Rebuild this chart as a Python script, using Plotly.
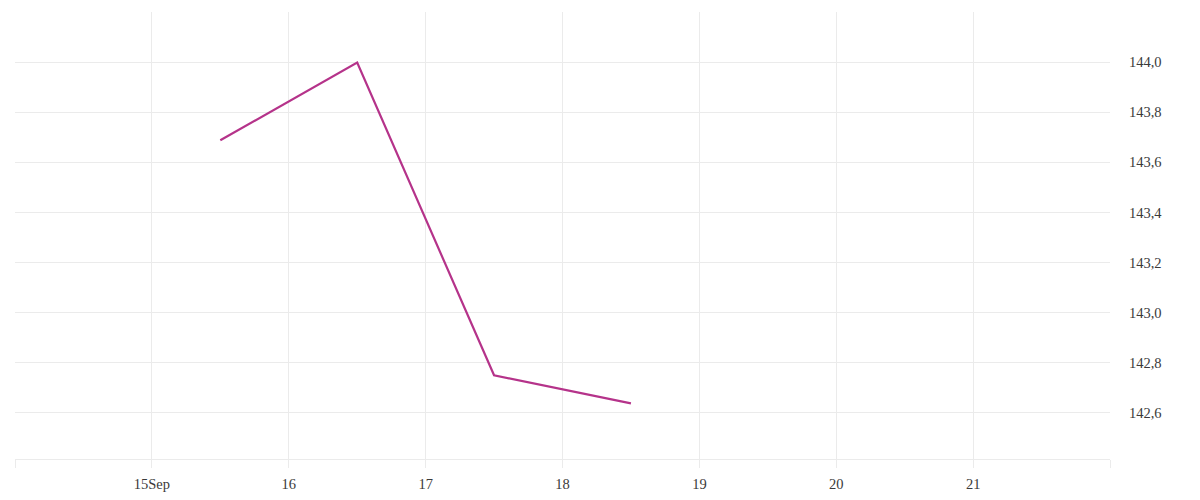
import plotly.graph_objects as go

dates = ["2023-09-15 12:00", "2023-09-16 12:00", "2023-09-17 12:00", "2023-09-18 12:00"]
values = [143.688, 143.998, 142.75, 142.638]

tick_dates = ["2023-09-14", "2023-09-15", "2023-09-16", "2023-09-17", "2023-09-18",
              "2023-09-19", "2023-09-20", "2023-09-21", "2023-09-22"]
tick_labels = ["", "15Sep", "16", "17", "18", "19", "20", "21", ""]
y_ticks = [142.6, 142.8, 143.0, 143.2, 143.4, 143.6, 143.8, 144.0]
y_labels = ["142,6", "142,8", "143,0", "143,2", "143,4", "143,6", "143,8", "144,0"]

grid = "#ebebeb"
font = "Liberation Serif"
fsize = 14.5
tcolor = "#3a3a3a"

fig = go.Figure()
fig.add_trace(go.Scatter(x=dates, y=values, mode="lines",
                         line=dict(color="#b5338a", width=2.2),
                         showlegend=False, hoverinfo="x+y"))

fig.update_layout(
    width=1192, height=492,
    margin=dict(l=7, r=90, t=4, b=41),
    paper_bgcolor="white", plot_bgcolor="white",
    font=dict(family=font, size=fsize, color=tcolor),
    xaxis=dict(range=["2023-09-14", "2023-09-22"], tickvals=tick_dates, ticktext=tick_labels,
               showgrid=True, gridcolor=grid, gridwidth=1,
               ticks="outside", ticklen=8, tickcolor=grid, tickwidth=1,
               ticklabelstandoff=4,
               showline=True, linecolor=grid, linewidth=1,
               zeroline=False, tickfont=dict(family=font, size=fsize, color=tcolor)),
    yaxis=dict(range=[142.416, 144.2], side="right", tickvals=y_ticks, ticktext=y_labels,
               showgrid=True, gridcolor=grid, gridwidth=1,
               ticks="outside", ticklen=15, tickcolor="rgba(0,0,0,0)",
               showline=False, zeroline=False,
               tickfont=dict(family=font, size=fsize, color=tcolor)),
)

fig.write_html("out.html")
